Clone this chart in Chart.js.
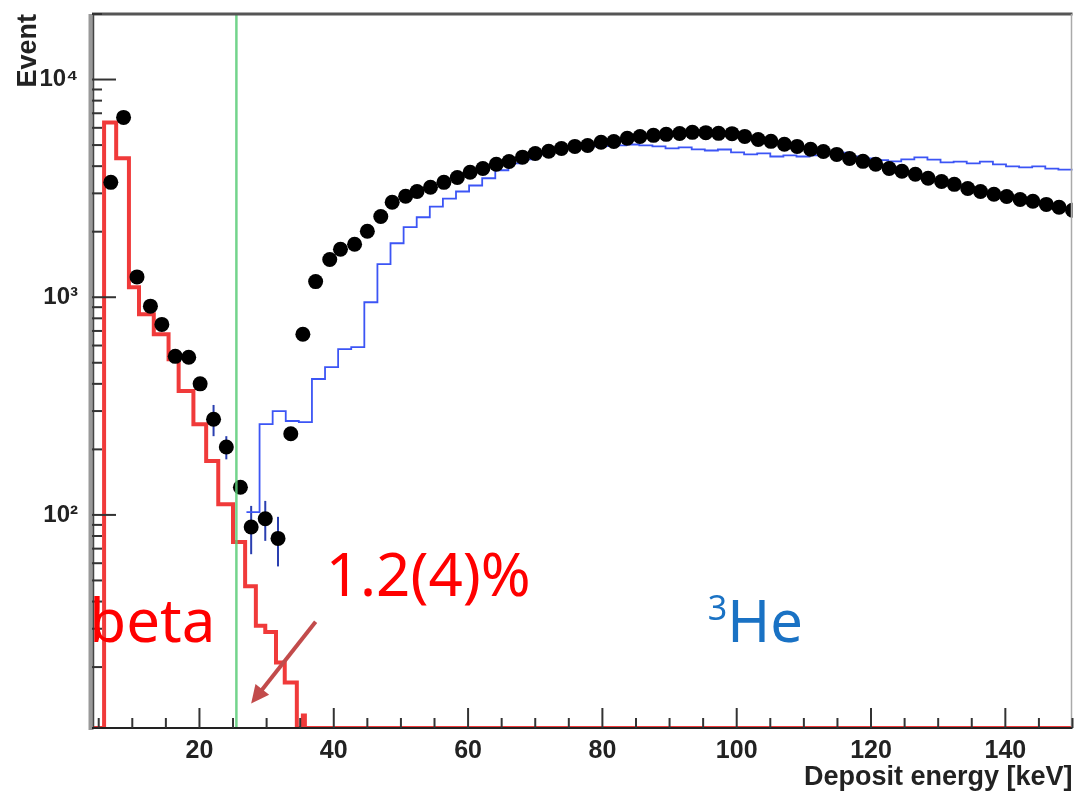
<!DOCTYPE html>
<html>
<head>
<meta charset="utf-8">
<script src="https://cdn.jsdelivr.net/npm/chart.js@4.4.1/dist/chart.umd.min.js"></script>
<style>
  html, body { margin: 0; padding: 0; background: #fff; }
</style>
</head>
<body>
<canvas id="spectrum" width="1080" height="796"></canvas>
<script>
// axis ranges and labelled ticks
const xRange = [4, 150];
const yRange = [10.5, 20000];
const xTicks = [20, 40, 60, 80, 100, 120, 140];
const yTicks = [100, 1000, 10000];
const yTickLabels = ['10²', '10³', '10⁴'];

// measured spectrum (black points)
const dataEnergy = [6.8, 8.7, 10.7, 12.7, 14.4, 16.4, 18.4, 20.1, 22.1, 24.0,
  26.1, 27.7, 29.8, 31.7, 33.6, 35.4, 37.3, 39.4, 41.0, 43.1,
  45.0, 47.0, 48.7, 50.7, 52.4, 54.4, 56.4, 58.4,
  60.3, 62.2, 64.2, 66.1, 68.1, 70.0, 72.0, 73.9, 75.9, 77.8,
  79.8, 81.7, 83.7, 85.6, 87.6, 89.5, 91.5, 93.4, 95.4, 97.3,
  99.3, 101.2, 103.2, 105.1, 107.1, 109.0, 111.0, 112.9, 114.9, 116.8,
  118.8, 120.7, 122.7, 124.6, 126.6, 128.5, 130.5, 132.4, 134.4, 136.3,
  138.3, 140.2, 142.2, 144.1, 146.1, 148.0, 150.0];
const dataCounts = [3370, 6700, 1240, 910, 750, 535, 530, 400, 275, 205,
  134, 88, 96, 78, 236, 676, 1180, 1490, 1660, 1750,
  2010, 2350, 2730, 2910, 3060, 3200, 3370, 3550,
  3750, 3900, 4080, 4200, 4400, 4570, 4680, 4820, 4930, 4980,
  5150, 5190, 5370, 5470, 5540, 5600, 5650, 5720, 5700, 5660,
  5640, 5480, 5300, 5200, 5040, 4930, 4780, 4670, 4530, 4340,
  4210, 4080, 3900, 3790, 3670, 3520, 3400, 3300, 3160, 3060,
  2970, 2900, 2810, 2760, 2670, 2590, 2510];
// visible error bars (counts), only where they stick out of the markers
const errEnergy = [22.1, 24.0, 27.7, 29.8, 31.7];
const errCounts = [45, 25, 22, 20, 20];

// beta MC histogram (red), bin edges + content (0 = empty bin)
const betaEdges = [4, 5.8, 7.6, 9.5, 11.0, 13.2, 15.4, 16.9, 19.1, 21.0, 22.8,
  25.0, 26.8, 28.4, 29.8, 31.4, 32.7, 34.5, 35.4, 35.7, 150];
const betaCounts = [0, 6350, 4350, 1110, 836, 676, 519, 371, 261, 177,
  112, 75, 47, 31, 29, 21, 17, 0, 12, 0];

// 3He MC histogram (blue), bin edges + content
const heEdges = [27.0, 28.95, 30.9, 32.85, 34.8, 36.75, 38.7, 40.65, 42.6, 44.55,
  46.5, 48.45, 50.4, 52.35, 54.3, 56.25, 58.2, 60.15, 62.1, 64.05,
  66.0, 67.95, 69.9, 71.85, 73.8, 75.75, 77.7, 79.65, 81.6, 83.55,
  85.5, 87.45, 89.4, 91.35, 93.3, 95.25, 97.2, 99.15, 101.1, 103.05,
  105.0, 106.95, 108.9, 110.85, 112.8, 114.75, 116.7, 118.65, 120.6, 122.55,
  124.5, 126.45, 128.4, 130.35, 132.3, 134.25, 136.2, 138.15, 140.1, 142.05,
  144.0, 145.95, 147.9, 149.85, 151.8];
const heCounts = [103, 261, 300, 270, 267, 421, 477, 577, 590, 948,
  1420, 1770, 2100, 2330, 2610, 2840, 3060, 3260, 3520, 3830,
  4120, 4300, 4530, 4720, 4830, 4880, 4930, 4950, 4980, 5030,
  4980, 4930, 4830, 4880, 4780, 4720, 4770, 4630, 4530, 4580,
  4430, 4480, 4430, 4480, 4530, 4620, 4440, 4340, 4260, 4210,
  4300, 4390, 4290, 4160, 4200, 4120, 4200, 4080, 3990, 3950,
  3990, 3900, 3860, 3860];

// threshold cut
const cutEnergy = 25.5;

// empty bins are drawn on the axis floor, like ROOT does
function histPoints(edges, counts) {
  var pts = counts.map(function (c, i) { return { x: edges[i], y: c > 0 ? c : yRange[0] }; });
  var last = counts[counts.length - 1];
  pts.push({ x: edges[edges.length - 1], y: last > 0 ? last : yRange[0] });
  return pts;
}

// annotation texts, placed in data units
var notes = [
  { text: 'beta', x: 3.6, y: 26, font: '60px "Noto Sans"', color: '#ff0000' },
  { text: '1.2(4)%', x: 38.8, y: 42.5, font: '60px "Noto Sans"', color: '#ff0000' }
];
var heNote = { sup: '3', text: 'He', x: 95.7, y: 26, supY: 33, color: '#1a72c4' };
var arrowNote = { from: [37.3, 32.3], to: [27.7, 13.6], color: '#c24b4b' };

var errorBars = {
  id: 'errorBars',
  beforeDatasetsDraw: function (chart) {
    var ctx = chart.ctx, a = chart.chartArea, xs = chart.scales.x, ys = chart.scales.y;
    ctx.save();
    ctx.strokeStyle = '#2a3fb0';
    ctx.lineWidth = 2;
    errEnergy.forEach(function (e, i) {
      var c = dataCounts[dataEnergy.indexOf(e)];
      var px = xs.getPixelForValue(e);
      ctx.beginPath();
      ctx.moveTo(px, ys.getPixelForValue(c + errCounts[i]));
      ctx.lineTo(px, ys.getPixelForValue(c - errCounts[i]));
      ctx.stroke();
    });
    ctx.restore();
  }
};

var decor = {
  id: 'decor',
  afterDatasetsDraw: function (chart) {
    var ctx = chart.ctx, a = chart.chartArea, xs = chart.scales.x, ys = chart.scales.y;
    ctx.save();

    // frame
    ctx.strokeStyle = '#555';
    ctx.lineWidth = 3;
    ctx.beginPath(); ctx.moveTo(a.left, a.top); ctx.lineTo(a.right, a.top); ctx.stroke();
    ctx.strokeStyle = '#aaa';
    ctx.lineWidth = 1.5;
    ctx.beginPath(); ctx.moveTo(a.right - 1, a.top); ctx.lineTo(a.right - 1, a.bottom); ctx.stroke();
    ctx.strokeStyle = '#999';
    ctx.lineWidth = 5;
    ctx.beginPath(); ctx.moveTo(a.left - 1, a.top); ctx.lineTo(a.left - 1, a.bottom + 2); ctx.stroke();
    ctx.strokeStyle = '#444';
    ctx.lineWidth = 1.5;
    ctx.beginPath(); ctx.moveTo(a.left + 1.5, a.top); ctx.lineTo(a.left + 1.5, a.bottom); ctx.stroke();
    ctx.strokeStyle = '#222';
    ctx.lineWidth = 2;
    ctx.beginPath(); ctx.moveTo(a.left, a.bottom); ctx.lineTo(a.right, a.bottom); ctx.stroke();

    // inner tick marks
    ctx.strokeStyle = '#333';
    ctx.lineWidth = 2;
    for (var e = 5; e <= 150; e += 5) {
      var px = xs.getPixelForValue(e);
      var len = e % 20 === 0 ? 20 : 10;
      ctx.beginPath(); ctx.moveTo(px, a.bottom); ctx.lineTo(px, a.bottom - len); ctx.stroke();
    }
    for (var d = 10; d <= 10000; d *= 10) {
      for (var m = 1; m <= 9; m++) {
        var v = m * d;
        if (v < yRange[0] || v > yRange[1]) continue;
        var py = ys.getPixelForValue(v);
        var l = m === 1 ? 24 : 10;
        ctx.beginPath(); ctx.moveTo(a.left, py); ctx.lineTo(a.left + l, py); ctx.stroke();
      }
    }

    // text notes
    ctx.textBaseline = 'alphabetic';
    ctx.textAlign = 'left';
    notes.forEach(function (n) {
      ctx.font = n.font;
      ctx.fillStyle = n.color;
      ctx.fillText(n.text, xs.getPixelForValue(n.x), ys.getPixelForValue(n.y));
    });
    ctx.fillStyle = heNote.color;
    ctx.font = '34px "Noto Sans"';
    var hx = xs.getPixelForValue(heNote.x);
    ctx.fillText(heNote.sup, hx, ys.getPixelForValue(heNote.supY));
    var sw = ctx.measureText(heNote.sup).width;
    ctx.font = '58px "Noto Sans"';
    ctx.fillText(heNote.text, hx + sw, ys.getPixelForValue(heNote.y));

    // arrow
    var x0 = xs.getPixelForValue(arrowNote.from[0]), y0 = ys.getPixelForValue(arrowNote.from[1]);
    var x1 = xs.getPixelForValue(arrowNote.to[0]), y1 = ys.getPixelForValue(arrowNote.to[1]);
    var ang = Math.atan2(y1 - y0, x1 - x0);
    var head = 20;
    ctx.strokeStyle = arrowNote.color;
    ctx.fillStyle = arrowNote.color;
    ctx.lineWidth = 4;
    ctx.beginPath();
    ctx.moveTo(x0, y0);
    ctx.lineTo(x1 - head * 0.8 * Math.cos(ang), y1 - head * 0.8 * Math.sin(ang));
    ctx.stroke();
    ctx.beginPath();
    ctx.moveTo(x1, y1);
    ctx.lineTo(x1 - head * Math.cos(ang - 0.45), y1 - head * Math.sin(ang - 0.45));
    ctx.lineTo(x1 - head * Math.cos(ang + 0.45), y1 - head * Math.sin(ang + 0.45));
    ctx.closePath();
    ctx.fill();

    ctx.restore();
  }
};

var ctx = document.getElementById('spectrum');
var chart = new Chart(ctx, {
  type: 'scatter',
  data: {
    datasets: [
      {
        label: 'cut',
        type: 'line',
        data: [{ x: cutEnergy, y: yRange[0] }, { x: cutEnergy, y: yRange[1] }],
        borderColor: 'rgba(90, 205, 120, 0.85)',
        borderWidth: 2.5,
        pointRadius: 0,
        fill: false
      },
      {
        label: 'data',
        data: dataEnergy.map(function (e, i) { return { x: e, y: dataCounts[i] }; }),
        backgroundColor: '#000',
        borderColor: '#000',
        pointRadius: 7.5,
        pointBorderWidth: 0,
        showLine: false
      },
      {
        label: 'beta',
        type: 'line',
        data: histPoints(betaEdges, betaCounts),
        stepped: 'before',
        borderColor: '#f03a3a',
        borderWidth: 4,
        pointRadius: 0,
        fill: false
      },
      {
        label: '3He',
        type: 'line',
        data: histPoints(heEdges, heCounts),
        stepped: 'before',
        borderColor: '#3c55f5',
        borderWidth: 1.8,
        pointRadius: 0,
        fill: false
      }
    ]
  },
  options: {
    responsive: false,
    devicePixelRatio: 1,
    animation: false,
    layout: { padding: { top: 14, right: 2, left: 0, bottom: 0 } },
    plugins: { legend: { display: false }, tooltip: { enabled: false } },
    scales: {
      x: {
        type: 'linear',
        min: xRange[0],
        max: xRange[1],
        afterBuildTicks: function (s) { s.ticks = xTicks.map(function (v) { return { value: v }; }); },
        afterFit: function (s) { s.height = 68; s.paddingLeft = 0; s.paddingRight = 0; },
        grid: { drawOnChartArea: false, drawTicks: false },
        border: { display: false },
        ticks: {
          padding: 8,
          color: '#222',
          font: { family: 'Liberation Sans', size: 25, weight: 'bold' },
          maxRotation: 0
        },
        title: {
          display: true,
          text: 'Deposit energy [keV]',
          align: 'end',
          color: '#222',
          font: { family: 'Liberation Sans', size: 27, weight: 'bold' },
          padding: { top: 0, bottom: 2 }
        }
      },
      y: {
        type: 'logarithmic',
        min: yRange[0],
        max: yRange[1],
        afterBuildTicks: function (s) { s.ticks = yTicks.map(function (v) { return { value: v }; }); },
        afterFit: function (s) { s.width = 92; s.paddingTop = 0; s.paddingBottom = 0; },
        grid: { drawOnChartArea: false, drawTicks: false },
        border: { display: false },
        ticks: {
          padding: 14,
          color: '#222',
          font: { family: 'Liberation Sans', size: 24, weight: 'bold' },
          callback: function (v) { var i = yTicks.indexOf(v); return i < 0 ? '' : yTickLabels[i]; }
        },
        title: {
          display: true,
          text: 'Event',
          align: 'end',
          color: '#222',
          font: { family: 'Liberation Sans', size: 27, weight: 'bold' },
          padding: { top: 12, bottom: 0 }
        }
      }
    }
  },
  plugins: [errorBars, decor]
});
</script>
</body>
</html>
